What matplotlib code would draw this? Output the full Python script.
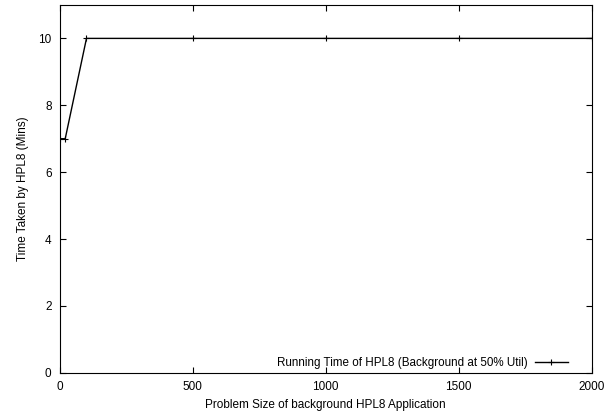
import matplotlib
matplotlib.use("Agg")
import matplotlib.pyplot as plt

plt.rcParams['font.family'] = ['Liberation Sans', 'DejaVu Sans']

problem_size = [0, 20, 100, 500, 1000, 1500, 2000]
time_mins = [7, 7, 10, 10, 10, 10, 10]

fig = plt.figure(figsize=(6.05, 4.12), dpi=100)
ax = fig.add_axes([0.099, 0.095, 0.879, 0.893])

ax.plot(problem_size, time_mins, color='black', lw=1, marker='+', ms=5, mew=0.8,
        label='Running Time of HPL8 (Background at 50% Util)')

ax.set_xlim(0, 2000)
ax.set_ylim(0, 11)
ax.set_xticks([0, 500, 1000, 1500, 2000])
ax.set_yticks([0, 2, 4, 6, 8, 10])
ax.tick_params(direction='in', top=True, right=True, labelsize=8.5, length=4, width=0.8)
ax.tick_params(axis='x', pad=6)
ax.tick_params(axis='y', pad=6)
ax.set_xlabel('Problem Size of background HPL8 Application', fontsize=8.5, labelpad=4)
ax.set_ylabel('Time Taken by HPL8 (Mins)', fontsize=8.5, labelpad=7)

ax.legend(loc='center right', bbox_to_anchor=(0.955, 0.027), frameon=False,
          fontsize=8.4, markerfirst=False, handlelength=2.8, handletextpad=0.6,
          borderpad=0, borderaxespad=0)

fig.savefig('out.png', dpi=100)
